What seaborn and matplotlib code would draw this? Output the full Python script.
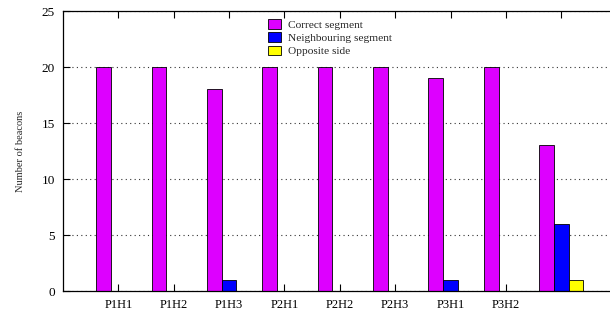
import matplotlib
matplotlib.use("Agg")
import matplotlib.pyplot as plt
import seaborn as sns
import pandas as pd

runs = ["P1H1", "P1H2", "P1H3", "P2H1", "P2H2", "P2H3", "P3H1", "P3H2", ""]
correct = [20, 20, 18, 20, 20, 20, 19, 20, 13]
neighbour = [0, 0, 1, 0, 0, 0, 1, 0, 6]
opposite = [0, 0, 0, 0, 0, 0, 0, 0, 1]
series = ["Correct segment", "Neighbouring segment", "Opposite side"]
colors = ["#dd00ff", "#0000ff", "#ffff00"]
yticks = [0, 5, 10, 15, 20, 25]

rows = []
for i, r in enumerate(runs):
    for name, vals in zip(series, [correct, neighbour, opposite]):
        rows.append({"run": r, "series": name, "count": vals[i]})
df = pd.DataFrame(rows)

sns.set_style("white")
plt.rcParams['font.family'] = ['Liberation Serif', 'DejaVu Serif']

fig = plt.figure(figsize=(6.1, 3.11), dpi=100)
ax = fig.add_axes([0.1033, 0.0643, 0.8967, 0.9003])

sns.barplot(data=df, x="run", y="count", hue="series", order=runs,
            hue_order=series, palette=colors, width=0.8, saturation=1,
            edgecolor="black", linewidth=0.6, ax=ax, legend=True)

ax.set_xlim(-1, 8.88)
ax.set_ylim(0, 25)
ax.set_yticks(yticks)
ax.set_xlabel("")
ax.set_ylabel("Number of beacons", fontsize=7.5, labelpad=12)
ax.yaxis.grid(True, linestyle=(0, (1, 3)), linewidth=0.8, color="#333333")
ax.set_axisbelow(True)

for s in ["left", "top", "bottom"]:
    ax.spines[s].set_color("black")
    ax.spines[s].set_linewidth(0.9)
ax.spines["right"].set_visible(False)

ax.tick_params(axis="x", direction="in", top=True, bottom=True, length=5,
               width=0.8, labelsize=9, pad=6, colors="black")
ax.tick_params(axis="y", direction="in", left=True, right=False, length=5,
               width=0.8, labelsize=9.5, pad=6, colors="black")

leg = ax.legend(loc="upper left", bbox_to_anchor=(268 / 610, 1 - 19 / 311),
                bbox_transform=fig.transFigure, frameon=False, fontsize=8.2,
                handlelength=1.1, handleheight=0.95, handletextpad=0.7,
                labelspacing=0.22, borderpad=0, borderaxespad=0)

fig.savefig("out.png", dpi=100)
